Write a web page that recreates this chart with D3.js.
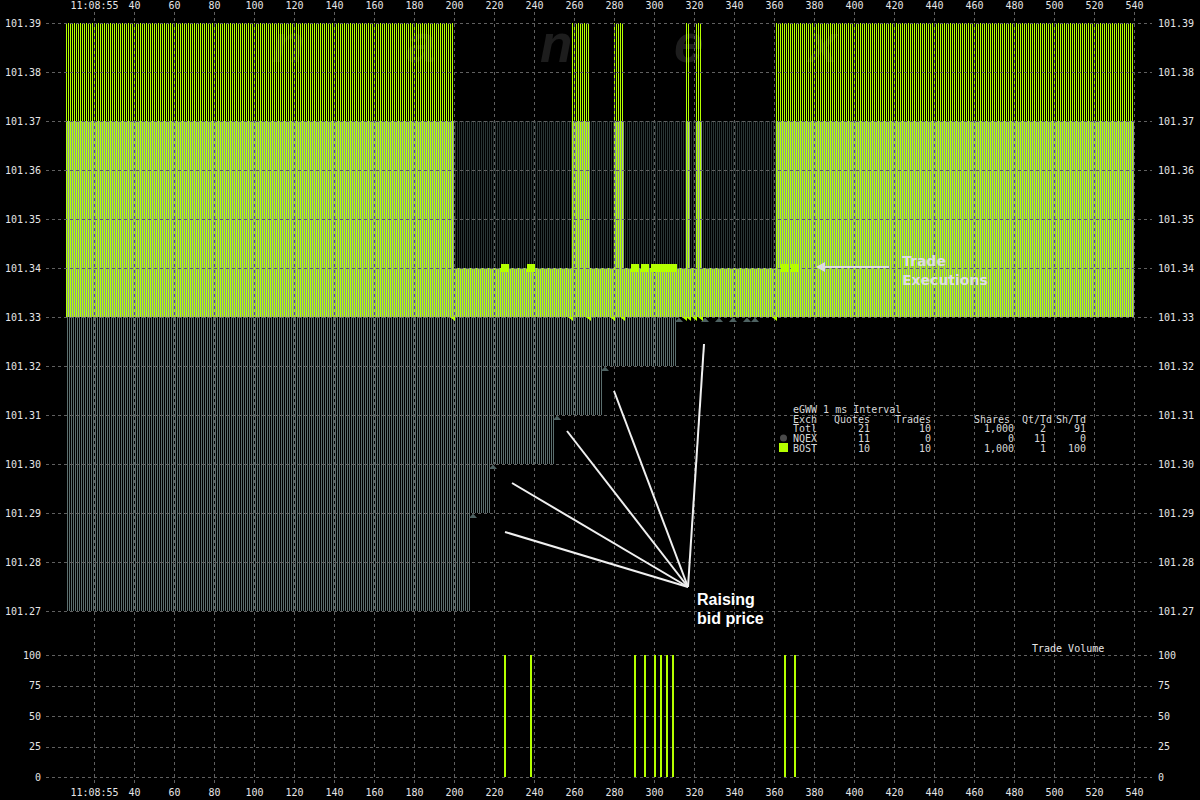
<!DOCTYPE html>
<html><head><meta charset="utf-8">
<script src="https://cdn.jsdelivr.net/npm/d3@7"></script>
<style>html,body{margin:0;padding:0;background:#000;}svg{display:block;}</style>
</head><body>
<script>
// ---------------- DATA ----------------
const msStart = 6, msEnd = 539;
const timeTicks = [20,40,60,80,100,120,140,160,180,200,220,240,260,280,300,320,340,360,380,400,420,440,460,480,500,520,540];
const timeTickLabels = ["11:08:55","40","60","80","100","120","140","160","180","200","220","240","260","280","300","320","340","360","380","400","420","440","460","480","500","520","540"];
const priceTicks = [101.27,101.28,101.29,101.30,101.31,101.32,101.33,101.34,101.35,101.36,101.37,101.38,101.39];
const volumeTicks = [0,25,50,75,100];

// BOST quotes (green)
const bostOpenBid = 101.33, bostOpenAsk = 101.39;
const bostQuoteTimes = [200,259,268,280,285,316,318,321,324,361];
const bostQuoteBids  = [101.33,101.33,101.33,101.33,101.33,101.33,101.33,101.33,101.33,101.33];
const bostQuoteAsks  = [101.34,101.39,101.34,101.39,101.34,101.39,101.34,101.39,101.34,101.39];

// NQEX quotes (gray)
const nqexOpenBid = 101.27, nqexOpenAsk = 101.37;
const nqexQuoteTimes = [208,218,250,274,311,324,331,338,345,349];
const nqexQuoteBids  = [101.29,101.30,101.31,101.32,101.33,101.33,101.33,101.33,101.33,101.33];
const nqexQuoteAsks  = [101.37,101.37,101.37,101.37,101.37,101.37,101.37,101.37,101.37,101.37];

// BOST trades
const tradeTimes  = [225,238,290,295,300,303,306,309,365,370];
const tradePrices = [101.34,101.34,101.34,101.34,101.34,101.34,101.34,101.34,101.34,101.34];
const tradeSizes  = [100,100,100,100,100,100,100,100,100,100];

// summary table
const tableExch   = ["Totl","NQEX","BOST"];
const tableQuotes = ["21","11","10"];
const tableTrades = ["10","0","10"];
const tableShares = ["1,000","0","1,000"];
const tableQtTd   = ["2","11","1"];
const tableShTd   = ["91","0","100"];

// ---------------- STYLE ----------------
const GREEN = "#b4ff00", GRAY = "#5b6e6e", GRAY_IN = "#8c9a94", GRAY_OUT = "#2a3535", GRID = "#606060", TXT = "#e6e6e6";
const MONO = "'DejaVu Sans Mono', 'Liberation Mono', monospace";

const W = 1200, H = 800;
const svg = d3.select("body").append("svg").attr("width", W).attr("height", H)
  .style("background", "#000");
svg.append("rect").attr("width", W).attr("height", H).attr("fill", "#000");

const x = d3.scaleLinear().domain([20, 540]).range([94, 1134]);
const y = d3.scaleLinear().domain([101.27, 101.39]).range([611, 23]);
const yv = d3.scaleLinear().domain([0, 100]).range([777, 655]);

const defs = svg.append("defs");
defs.append("clipPath").attr("id", "plotclip").append("rect")
  .attr("x", x(msStart)).attr("y", y(101.39)).attr("width", x(msEnd + 1) - x(msStart)).attr("height", y(101.27) - y(101.39));

// watermark
const wm = svg.append("g");
["n","a","n","e","x"].forEach((c, i) => {
  wm.append("text").attr("x", 272 + i * 134).attr("y", 62).text(c)
    .attr("font-family", "'Liberation Sans', Arial, sans-serif").attr("font-weight", "bold")
    .attr("font-style", "italic").attr("font-size", 53).attr("fill", "#1d1d1d");
});

function stateAt(times, vals, open, v) {
  let r = open;
  for (let i = 0; i < times.length; i++) if (times[i] <= v) r = vals[i];
  return r;
}
const ms = d3.range(msStart, msEnd + 1);
const rows = ms.map(v => {
  const bb = stateAt(bostQuoteTimes, bostQuoteBids, bostOpenBid, v);
  const ba = stateAt(bostQuoteTimes, bostQuoteAsks, bostOpenAsk, v);
  const nb = stateAt(nqexQuoteTimes, nqexQuoteBids, nqexOpenBid, v);
  const na = stateAt(nqexQuoteTimes, nqexQuoteAsks, nqexOpenAsk, v);
  return { v, bb, ba, nb, na, bestBid: Math.max(bb, nb), bestAsk: Math.min(ba, na) };
});
// NQEX segments coloured by position relative to the best bid / offer
const nqexSegs = [];
rows.forEach(d => {
  const parts = [
    [d.nb, Math.min(d.na, d.bestBid), GRAY],
    [Math.max(d.nb, d.bestBid), Math.min(d.na, d.bestAsk), GRAY_IN],
    [Math.max(d.nb, d.bestAsk), d.na, GRAY_OUT]
  ];
  parts.forEach(p => { if (p[1] > p[0] + 1e-9) nqexSegs.push({ v: d.v, lo: p[0], hi: p[1], c: p[2] }); });
});

const plot = svg.append("g").attr("clip-path", "url(#plotclip)").attr("shape-rendering", "crispEdges");
plot.selectAll("rect.bost").data(rows).join("rect").attr("class", "bost")
  .attr("x", d => x(d.v)).attr("width", 1)
  .attr("y", d => y(d.ba)).attr("height", d => y(d.bb) - y(d.ba)).attr("fill", GREEN);
plot.selectAll("rect.nqex").data(nqexSegs).join("rect").attr("class", "nqex")
  .attr("x", d => x(d.v) + 1).attr("width", 1)
  .attr("y", d => y(d.hi)).attr("height", d => y(d.lo) - y(d.hi)).attr("fill", d => d.c);

// grid
const grid = svg.append("g").attr("stroke", GRID).attr("stroke-dasharray", "3,3").attr("shape-rendering", "crispEdges");
grid.selectAll("line.hp").data(priceTicks).join("line").attr("class", "hp")
  .attr("x1", 46).attr("x2", 1152).attr("y1", d => Math.round(y(d)) + 0.5).attr("y2", d => Math.round(y(d)) + 0.5);
grid.selectAll("line.hv").data(volumeTicks).join("line").attr("class", "hv")
  .attr("x1", 46).attr("x2", 1152).attr("y1", d => Math.round(yv(d)) + 0.5).attr("y2", d => Math.round(yv(d)) + 0.5);
grid.selectAll("line.vt").data(timeTicks).join("line").attr("class", "vt")
  .attr("x1", d => x(d) + 0.5).attr("x2", d => x(d) + 0.5).attr("y1", 12).attr("y2", 786);

// quote markers
svg.append("g").selectAll("path").data(nqexQuoteTimes.map((t, i) => [t, nqexQuoteBids[i]])).join("path")
  .attr("d", d => { const cx = x(d[0]) + 3, yy = y(d[1]); return `M${cx-4},${yy+5}L${cx+4},${yy+5}L${cx},${yy+0.5}Z`; })
  .attr("fill", "#4e6262");
svg.append("g").selectAll("path").data(bostQuoteTimes.map((t, i) => [t, bostQuoteBids[i]])).join("path")
  .attr("d", d => { const xx = x(d[0]), yy = y(d[1]); return `M${xx-4},${yy}L${xx+1},${yy}L${xx+1},${yy+4}Z`; })
  .attr("fill", GREEN);

// trade squares
svg.append("g").attr("shape-rendering", "crispEdges").selectAll("rect").data(tradeTimes.map((t, i) => [t, tradePrices[i]])).join("rect")
  .attr("x", d => x(d[0]) - 3).attr("y", d => Math.round(y(d[1])) - 4).attr("width", 8).attr("height", 8).attr("fill", GREEN);

// volume bars
svg.append("g").attr("shape-rendering", "crispEdges").selectAll("rect").data(tradeTimes.map((t, i) => [t, tradeSizes[i]])).join("rect")
  .attr("x", d => x(d[0])).attr("width", 2)
  .attr("y", d => yv(d[1])).attr("height", d => yv(0) - yv(d[1])).attr("fill", GREEN);

// axes
function styleAxis(g) {
  g.select(".domain").remove();
  g.selectAll("line").remove();
  g.selectAll("text").attr("fill", TXT).attr("font-family", MONO).attr("font-size", 10);
}
const fmtP = d3.format(".2f");
svg.append("g").attr("transform", "translate(41,0)").call(d3.axisLeft(y).tickValues(priceTicks).tickFormat(fmtP).tickSize(0).tickPadding(0)).call(styleAxis);
svg.append("g").attr("transform", "translate(1158,0)").call(d3.axisRight(y).tickValues(priceTicks).tickFormat(fmtP).tickSize(0).tickPadding(0)).call(styleAxis);
svg.append("g").attr("transform", "translate(41,0)").call(d3.axisLeft(yv).tickValues(volumeTicks).tickSize(0).tickPadding(0)).call(styleAxis);
svg.append("g").attr("transform", "translate(1158,0)").call(d3.axisRight(yv).tickValues(volumeTicks).tickSize(0).tickPadding(0)).call(styleAxis);
const tfmt = d => timeTickLabels[timeTicks.indexOf(d)];
svg.append("g").attr("transform", "translate(0,9)").call(d3.axisTop(x).tickValues(timeTicks).tickFormat(tfmt).tickSize(0).tickPadding(0)).call(styleAxis);
svg.append("g").attr("transform", "translate(0,789)").call(d3.axisBottom(x).tickValues(timeTicks).tickFormat(tfmt).tickSize(0).tickPadding(0)).call(styleAxis);

svg.append("text").attr("x", 1032).attr("y", 652).text("Trade Volume")
  .attr("fill", TXT).attr("font-family", MONO).attr("font-size", 10);

// summary table
const tb = svg.append("g").attr("font-family", MONO).attr("font-size", 10).attr("fill", "#d8d8d8");
tb.append("text").attr("x", 793).attr("y", 413).text("eGWW 1 ms Interval");
const hdrY = 422.5;
[["Exch",793],["Quotes",834],["Trades",895],["Shares",974],["Qt/Td",1022],["Sh/Td",1056]]
  .forEach(h => tb.append("text").attr("x", h[1]).attr("y", hdrY).text(h[0]));
const rowY = [432, 442, 452];
tableExch.forEach((e, i) => {
  tb.append("text").attr("x", 793).attr("y", rowY[i]).text(e);
  tb.append("text").attr("x", 870).attr("y", rowY[i]).attr("text-anchor", "end").text(tableQuotes[i]);
  tb.append("text").attr("x", 931).attr("y", rowY[i]).attr("text-anchor", "end").text(tableTrades[i]);
  tb.append("text").attr("x", 1014).attr("y", rowY[i]).attr("text-anchor", "end").text(tableShares[i]);
  tb.append("text").attr("x", 1046).attr("y", rowY[i]).attr("text-anchor", "end").text(tableQtTd[i]);
  tb.append("text").attr("x", 1086).attr("y", rowY[i]).attr("text-anchor", "end").text(tableShTd[i]);
});
svg.append("circle").attr("cx", 783.5).attr("cy", 438).attr("r", 3.5).attr("fill", "#4a4a4a");
svg.append("rect").attr("x", 779).attr("y", 443).attr("width", 9).attr("height", 9).attr("fill", GREEN);

// annotations: Trade Executions
const ann = svg.append("g");
ann.append("line").attr("x1", 889).attr("x2", 822).attr("y1", 267).attr("y2", 267).attr("stroke", "#dcdcdc").attr("stroke-width", 2);
ann.append("path").attr("d", "M816,267L825,262L825,272Z").attr("fill", "#dcdcdc");
ann.append("text").attr("x", 902).attr("y", 266).text("Trade")
  .attr("fill", "#dcdcdc").attr("font-family", "'DejaVu Sans', sans-serif").attr("font-weight", "bold").attr("font-size", 14);
ann.append("text").attr("x", 902).attr("y", 285).text("Executions")
  .attr("fill", "#dcdcdc").attr("font-family", "'DejaVu Sans', sans-serif").attr("font-weight", "bold").attr("font-size", 14);

// annotations: Raising bid price
const fan = [[505, 532], [512, 483], [567, 431], [614, 391], [704, 344]];
ann.selectAll("line.fan").data(fan).join("line").attr("class", "fan")
  .attr("x1", 688).attr("y1", 587).attr("x2", d => d[0]).attr("y2", d => d[1])
  .attr("stroke", "#f0f0f0").attr("stroke-width", 2);
ann.append("text").attr("x", 697).attr("y", 605).text("Raising")
  .attr("fill", "#ffffff").attr("font-family", "'Liberation Sans', Arial, sans-serif").attr("font-weight", "bold").attr("font-size", 16);
ann.append("text").attr("x", 697).attr("y", 624).text("bid price")
  .attr("fill", "#ffffff").attr("font-family", "'Liberation Sans', Arial, sans-serif").attr("font-weight", "bold").attr("font-size", 16);
</script>
</body></html>
